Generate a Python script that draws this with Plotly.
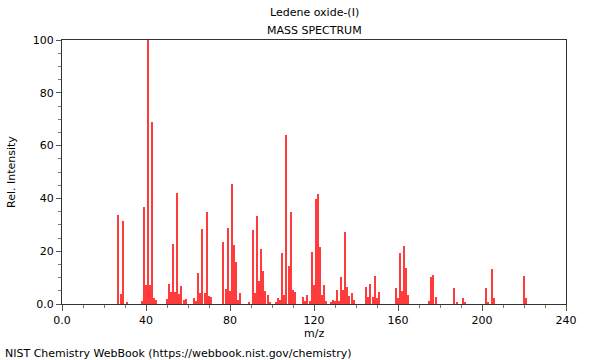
import plotly.graph_objects as go

mz = [27, 28, 29, 31, 38, 39, 40, 41, 42, 43, 44, 45,
      50, 51, 52, 53, 54, 55, 56, 57, 58, 59,
      63, 64, 65, 66, 67, 68, 69, 70, 71,
      77, 78, 79, 80, 81, 82, 83, 84, 85, 89,
      91, 92, 93, 94, 95, 96, 97, 98, 99,
      102, 103, 104, 105, 106, 107, 108, 109, 110, 111,
      115, 116, 117, 118, 119, 120, 121, 122, 123, 124, 125, 126,
      128, 129, 130, 131, 132, 133, 134, 135, 136, 137, 138, 139,
      145, 146, 147, 148, 149, 150, 151,
      159, 160, 161, 162, 163, 164, 165,
      175, 176, 177, 178, 187, 188, 191, 192,
      202, 203, 205, 206, 220, 221]
intensity = [33.6, 3.8, 31.3, 0.8, 1.0, 36.6, 7.2, 100, 7.2, 69.0, 2.1, 1.5,
             1.8, 7.6, 4.4, 22.6, 4.4, 41.9, 3.7, 6.9, 1.5, 2.0,
             2.4, 1.3, 11.7, 4.2, 28.4, 4.0, 34.8, 2.9, 2.7,
             23.4, 5.7, 28.7, 5.1, 45.5, 22.3, 15.8, 1.5, 4.0, 0.8,
             27.9, 4.3, 33.2, 8.6, 21.0, 12.4, 4.9, 3.4, 0.9,
             0.8, 2.1, 1.4, 19.3, 3.4, 64.0, 14.5, 34.7, 5.4, 4.7,
             2.5, 1.0, 3.4, 1.0, 19.7, 7.2, 39.9, 41.5, 21.6, 3.4, 7.2, 1.0,
             0.8, 1.4, 1.0, 5.2, 1.0, 10.1, 5.2, 27.3, 6.6, 2.9, 4.0, 1.4,
             6.3, 2.6, 7.6, 2.6, 10.5, 2.3, 4.5,
             5.9, 2.4, 19.3, 4.8, 21.8, 13.5, 3.4,
             1.0, 10.1, 11.0, 2.8, 5.9, 0.8, 2.3, 0.5,
             5.9, 0.8, 13.3, 2.1, 10.6, 2.1]

x_tickvals = [0, 40, 80, 120, 160, 200, 240]
x_ticktext = ["0.0", "40", "80", "120", "160", "200", "240"]
y_tickvals = [0, 20, 40, 60, 80, 100]
y_ticktext = ["0.0", "20", "40", "60", "80", "100"]

FONT = "DejaVu Sans, sans-serif"
PW, PH = 504, 264
L, T = 62, 40

fig = go.Figure()
fig.add_trace(go.Bar(x=mz, y=intensity, width=0.7,
                     marker=dict(color="#ff3b3b", line=dict(width=0)),
                     hoverinfo="x+y"))

axis_common = dict(showgrid=False, zeroline=False, showline=True, mirror=True,
                   linecolor="#333333", linewidth=1, ticks="outside", automargin=False,
                   tickcolor="#555555", tickfont=dict(family=FONT, size=11, color="#000"))

fig.update_xaxes(range=[0, 240], tickvals=x_tickvals, ticktext=x_ticktext,
                 ticklen=6,
                 minor=dict(dtick=10, ticklen=3, ticks="outside", tickcolor="#777777"),
                 **axis_common)
fig.update_yaxes(range=[0, 100], tickvals=y_tickvals, ticktext=y_ticktext,
                 ticklen=5,
                 minor=dict(dtick=5, ticklen=3, ticks="outside", tickcolor="#777777"),
                 **axis_common)

fig.update_layout(
    width=600, height=360,
    margin=dict(l=L, r=600 - L - PW, t=T, b=360 - T - PH, autoexpand=False),
    plot_bgcolor="white", paper_bgcolor="white",
    showlegend=False, bargap=0,
    font=dict(family=FONT, size=11, color="#000"),
)

def ann(text, px, py, xanchor="center", angle=0):
    fig.add_annotation(text=text, xref="paper", yref="paper",
                       x=(px - L) / PW, y=(T + PH - py) / PH, showarrow=False,
                       xanchor=xanchor, yanchor="middle", textangle=angle,
                       font=dict(family=FONT, size=11, color="#000"))

ann("Ledene oxide-(I)", 314, 13)
ann("MASS SPECTRUM", 314, 30)
ann("m/z", 314, 333)
ann("Rel. Intensity", 11, 172, angle=-90)
ann("NIST Chemistry WebBook (https://webbook.nist.gov/chemistry)", 3, 353, xanchor="left")

fig.write_html("out.html", config={"displayModeBar": False},
               post_script="document.body.style.margin='0px';document.body.style.overflow='hidden';")
